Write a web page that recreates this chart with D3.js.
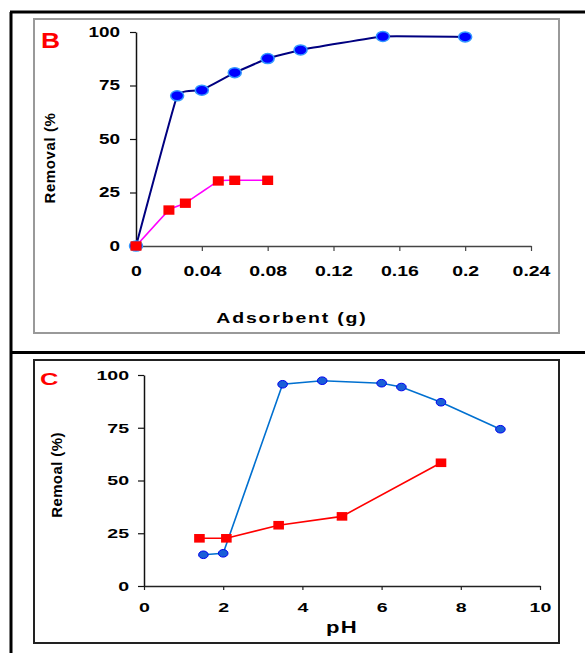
<!DOCTYPE html>
<html>
<head>
<meta charset="utf-8">
<script src="https://cdn.jsdelivr.net/npm/d3@7"></script>
<style>
  body { margin: 0; background: #fff; }
  svg text { font-family: Arial, "Liberation Sans", sans-serif; font-weight: bold; }
</style>
</head>
<body>
<div id="chart"></div>
<script>

// panel B : removal vs adsorbent dose
var doseBlue = [0, 0.025, 0.04, 0.06, 0.08, 0.1, 0.15, 0.2];
var remBlue = [0, 70.2, 72.8, 81, 87.6, 91.6, 97.9, 97.7];
var doseRed = [0, 0.02, 0.03, 0.05, 0.06, 0.08];
var remRed = [0, 16.8, 20, 30.4, 30.7, 30.7];
var xTicksB = [0, 0.04, 0.08, 0.12, 0.16, 0.2, 0.24];
var yTicks = [0, 25, 50, 75, 100];

// panel C : removal vs pH
var phBlue = [1.5, 2, 3.5, 4.5, 6, 6.5, 7.5, 9];
var remPhBlue = [14.8, 15.5, 95.6, 97.3, 96.1, 94.3, 87.1, 74.3];
var phRed = [1.4, 2.08, 3.4, 5, 7.5];
var remPhRed = [22.6, 22.6, 28.8, 33, 58.4];
var xTicksC = [0, 2, 4, 6, 8, 10];

var w = 585, h = 653;

var svg = d3.select('#chart').append('svg')
  .attr('width', w)
  .attr('height', h);

// outer table lines
svg.append('line').attr('x1', 11).attr('y1', 12).attr('x2', 11).attr('y2', h)
  .style('stroke', '#000').style('stroke-width', 3);
svg.append('line').attr('x1', 10).attr('y1', 12).attr('x2', w).attr('y2', 12)
  .style('stroke', '#000').style('stroke-width', 3);
svg.append('line').attr('x1', 10).attr('y1', 352.5).attr('x2', w).attr('y2', 352.5)
  .style('stroke', '#000').style('stroke-width', 3);

// chart area frames
svg.append('rect').attr('x', 34).attr('y', 19).attr('width', 525).attr('height', 314)
  .style('fill', 'none').style('stroke', '#999').style('stroke-width', 2);
svg.append('rect').attr('x', 34).attr('y', 360).attr('width', 525).attr('height', 283)
  .style('fill', 'none').style('stroke', '#222').style('stroke-width', 2);

// widen the glyphs a bit, the source figure was stretched sideways
function wide(sel, k, x) {
  sel.attr('x', x / k).attr('transform', 'scale(' + k + ',1)');
}


// ---------- panel B ----------
var xB = d3.scaleLinear().domain([0, 0.24]).range([136, 531]);
var yB = d3.scaleLinear().domain([0, 100]).range([246, 32]);

var axB = svg.append('g').attr('transform', 'translate(0,' + yB(0) + ')')
  .call(d3.axisBottom(xB).tickValues(xTicksB).tickSize(5).tickSizeOuter(0)
    .tickFormat(function(d) { return String(d); }));
axB.select('.domain').style('stroke', '#444').style('stroke-width', 1.5);
axB.selectAll('.tick line').style('stroke', '#444').style('stroke-width', 1.2);
axB.selectAll('.tick text')
  .attr('y', 19).attr('dy', '0.71em')
  .style('font-size', '15px').style('fill', '#000')
  .call(wide, 1.3, 0);

var ayB = svg.append('g').attr('transform', 'translate(' + xB(0) + ',0)')
  .call(d3.axisLeft(yB).tickValues(yTicks).tickSize(6).tickSizeOuter(0));
ayB.select('.domain').style('stroke', '#111').style('stroke-width', 1.5);
ayB.selectAll('.tick line').style('stroke', '#111').style('stroke-width', 1.2);
ayB.selectAll('.tick text')
  .style('font-size', '14px').style('fill', '#000')
  .call(wide, 1.35, -16);

svg.append('text').attr('x', 292 / 1.3).attr('y', 323)
  .attr('transform', 'scale(1.3,1)')
  .attr('text-anchor', 'middle')
  .style('font-size', '15px').style('letter-spacing', '1.4px')
  .text('Adsorbent (g)');

svg.append('text')
  .attr('transform', 'translate(55,158) rotate(-90)')
  .attr('text-anchor', 'middle')
  .style('font-size', '15px').style('letter-spacing', '0.6px')
  .text('Removal (%');

svg.append('text').attr('transform', 'translate(41,48) scale(1.2,1)')
  .style('font-size', '22px').style('fill', '#f00')
  .text('B');

var lineB = d3.line().curve(d3.curveCardinal.tension(0.75))
  .x(function(d) { return xB(d[0]); })
  .y(function(d) { return yB(d[1]); });

svg.append('path').datum(d3.zip(doseBlue, remBlue))
  .attr('d', lineB)
  .style('fill', 'none').style('stroke', '#000080').style('stroke-width', 2);

svg.append('path').datum(d3.zip(doseRed, remRed))
  .attr('d', lineB)
  .style('fill', 'none').style('stroke', '#ff00ff').style('stroke-width', 1.6);

svg.selectAll('ellipse.b').data(d3.zip(doseBlue, remBlue))
  .enter().append('ellipse').attr('class', 'b')
  .attr('cx', function(d) { return xB(d[0]); })
  .attr('cy', function(d) { return yB(d[1]); })
  .attr('rx', 6.5).attr('ry', 5)
  .style('fill', '#0000ff').style('stroke', '#3399ff').style('stroke-width', 1.5);

svg.selectAll('rect.b').data(d3.zip(doseRed, remRed))
  .enter().append('rect').attr('class', 'b')
  .attr('x', function(d) { return xB(d[0]) - 5.5; })
  .attr('y', function(d) { return yB(d[1]) - 4.7; })
  .attr('width', 11).attr('height', 9.4)
  .style('fill', '#ff0000');


// ---------- panel C ----------
var xC = d3.scaleLinear().domain([0, 10]).range([144, 540]);
var yC = d3.scaleLinear().domain([0, 100]).range([586, 375]);

var axC = svg.append('g').attr('transform', 'translate(0,' + yC(0) + ')')
  .call(d3.axisBottom(xC).tickValues(xTicksC).tickSize(4).tickSizeOuter(0));
axC.select('.domain').style('stroke', '#222').style('stroke-width', 1.5);
axC.selectAll('.tick line').style('stroke', '#222').style('stroke-width', 1.2);
axC.selectAll('.tick text')
  .attr('y', 16).attr('dy', '0.71em')
  .style('font-size', '13.5px').style('fill', '#000')
  .call(wide, 1.45, 0);

var ayC = svg.append('g').attr('transform', 'translate(' + xC(0) + ',0)')
  .call(d3.axisLeft(yC).tickValues(yTicks).tickSize(6).tickSizeOuter(0));
ayC.select('.domain').style('stroke', '#111').style('stroke-width', 1.5);
ayC.selectAll('.tick line').style('stroke', '#111').style('stroke-width', 1.2);
ayC.selectAll('.tick text')
  .style('font-size', '13.5px').style('fill', '#000')
  .call(wide, 1.45, -15);

svg.append('text').attr('x', 342 / 1.3).attr('y', 633)
  .attr('transform', 'scale(1.3,1)')
  .attr('text-anchor', 'middle')
  .style('font-size', '17px').style('letter-spacing', '1px')
  .text('pH');

svg.append('text')
  .attr('transform', 'translate(62,475) rotate(-90)')
  .attr('text-anchor', 'middle')
  .style('font-size', '15px').style('letter-spacing', '0.4px')
  .text('Remoal (%)');

svg.append('text').attr('transform', 'translate(40,384.5) scale(1.5,1)')
  .style('font-size', '17px').style('fill', '#f00')
  .text('C');

var lineC = d3.line()
  .x(function(d) { return xC(d[0]); })
  .y(function(d) { return yC(d[1]); });

svg.append('path').datum(d3.zip(phBlue, remPhBlue))
  .attr('d', lineC)
  .style('fill', 'none').style('stroke', '#0070d0').style('stroke-width', 1.6);

svg.append('path').datum(d3.zip(phRed, remPhRed))
  .attr('d', lineC)
  .style('fill', 'none').style('stroke', '#ff0000').style('stroke-width', 1.6);

svg.selectAll('ellipse.c').data(d3.zip(phBlue, remPhBlue))
  .enter().append('ellipse').attr('class', 'c')
  .attr('cx', function(d) { return xC(d[0]); })
  .attr('cy', function(d) { return yC(d[1]); })
  .attr('rx', 4.8).attr('ry', 3.8)
  .style('fill', '#1a5fd8').style('stroke', '#0000ee').style('stroke-width', 1);

svg.selectAll('rect.c').data(d3.zip(phRed, remPhRed))
  .enter().append('rect').attr('class', 'c')
  .attr('x', function(d) { return xC(d[0]) - 5.3; })
  .attr('y', function(d) { return yC(d[1]) - 4.3; })
  .attr('width', 10.6).attr('height', 8.6)
  .style('fill', '#ff0000');

</script>
</body>
</html>
